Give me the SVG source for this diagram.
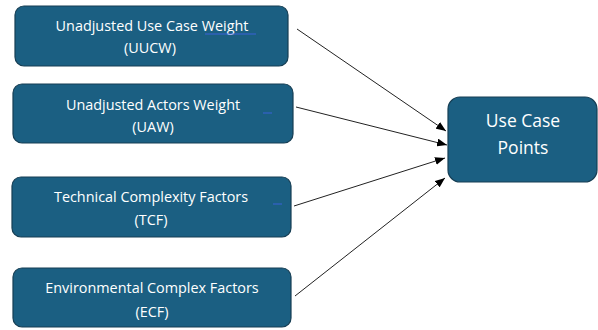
<svg xmlns="http://www.w3.org/2000/svg" width="598" height="330" viewBox="0 0 598 330">
  <style>
    .box { fill: #1b5f82; stroke: #163e54; stroke-width: 1.2; }
    .lbl { font-family: "Open Sans", "Liberation Sans", Arial, sans-serif; font-size: 14.4px; fill: #ffffff; text-anchor: middle; }
    .big { font-size: 17.5px; }
    .edge { stroke: #222222; stroke-width: 1; fill: none; marker-end: url(#arrow); }
    .mark { stroke: #3a63d8; stroke-width: 1; }
  </style>
  <defs>
    <marker id="arrow" viewBox="0 0 10 8" refX="10" refY="4" markerWidth="10" markerHeight="8" markerUnits="userSpaceOnUse" orient="auto">
      <path d="M0,0 L10,4 L0,8 Z" fill="#000000"/>
    </marker>
  </defs>
  <rect width="598" height="330" fill="#ffffff"/>

  <g id="connectors">
    <line class="edge" x1="297" y1="29" x2="446" y2="131"/>
    <line class="edge" x1="296" y1="107" x2="447" y2="145"/>
    <line class="edge" x1="294" y1="206" x2="445" y2="158"/>
    <line class="edge" x1="295" y1="296" x2="445" y2="178"/>
  </g>

  <g id="uucw">
    <rect class="box" x="15" y="6" width="273" height="60" rx="9"/>
    <text class="lbl" x="152" y="31">Unadjusted Use Case Weight</text>
    <text class="lbl" x="150" y="53">(UUCW)</text>
    <line class="mark" x1="205" y1="34" x2="256" y2="34"/>
  </g>

  <g id="uaw">
    <rect class="box" x="13" y="84" width="280" height="59" rx="9"/>
    <text class="lbl" x="153" y="110">Unadjusted Actors Weight</text>
    <text class="lbl" x="153" y="132">(UAW)</text>
    <line class="mark" x1="263" y1="113" x2="272" y2="113"/>
  </g>

  <g id="tcf">
    <rect class="box" x="12" y="177" width="279" height="60" rx="9"/>
    <text class="lbl" x="151" y="202">Technical Complexity Factors</text>
    <text class="lbl" x="151" y="225">(TCF)</text>
    <line class="mark" x1="273" y1="204" x2="282" y2="204"/>
  </g>

  <g id="ecf">
    <rect class="box" x="13" y="268" width="278" height="59" rx="9"/>
    <text class="lbl" x="152" y="293">Environmental Complex Factors</text>
    <text class="lbl" x="152" y="317">(ECF)</text>
  </g>

  <g id="ucp">
    <rect class="box" x="448" y="97" width="149" height="85" rx="12"/>
    <text class="lbl big" x="523" y="127">Use Case</text>
    <text class="lbl big" x="523" y="154">Points</text>
  </g>
</svg>
